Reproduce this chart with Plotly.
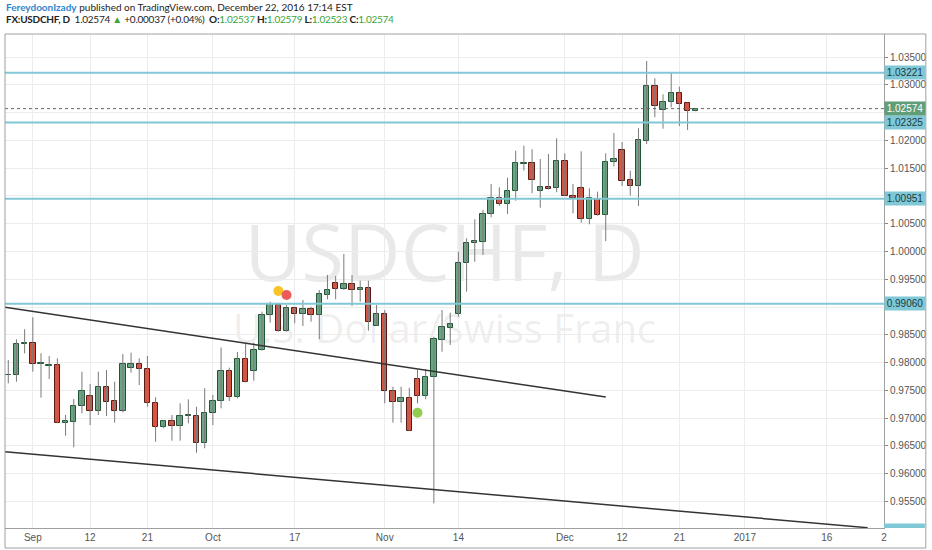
import numpy as np
import pandas as pd
import plotly.graph_objects as go

# ---------------- data ----------------
dates = pd.bdate_range("2016-08-29", "2016-12-23").strftime("%Y-%m-%d").tolist()

opens = [0.97770, 0.97775, 0.98328, 0.98357, 0.97968, 0.97937, 0.97955, 0.96910, 0.96934, 0.97217,
         0.97402, 0.97127, 0.97554, 0.97307, 0.97127, 0.97907, 0.97968, 0.97878, 0.97276, 0.96844,
         0.96941, 0.96862, 0.97042, 0.97042, 0.96550, 0.97085, 0.97307, 0.97853, 0.97370, 0.98058,
         0.97847, 0.98226, 0.98856, 0.99036, 0.98568, 0.98988, 0.98874, 0.98959, 0.98856, 0.99216,
         0.99438, 0.99319, 0.99409, 0.99306, 0.99337, 0.98663, 0.98874, 0.97487, 0.97294, 0.97366,
         0.97703, 0.97388, 0.97745, 0.98406, 0.98627, 0.98869, 0.99787, 1.00159, 1.00177, 1.00676,
         1.00969, 1.00856, 1.01090, 1.01582, 1.01589, 1.01095, 1.01167, 1.01139, 1.01630, 1.01005,
         1.01144, 1.00580, 1.00951, 1.00658, 1.01607, 1.01823, 1.01288, 1.01180, 1.01996, 1.02987,
         1.02549, 1.02688, 1.02861, 1.02681, 1.02537]
highs = [0.98045, 0.98418, 0.98599, 0.98815, 0.98166, 0.98118, 0.98076, 0.97055, 0.97343, 0.97835,
         0.97613, 0.97835, 0.97865, 0.97655, 0.98154, 0.98177, 0.98076, 0.98118, 0.97373, 0.96965,
         0.97055, 0.97265, 0.97337, 0.97204, 0.97536, 0.97415, 0.98271, 0.97907, 0.98190, 0.98357,
         0.98357, 0.98916, 0.99096, 0.99078, 0.99036, 0.99006, 0.99126, 0.99006, 0.99306, 0.99577,
         0.99559, 0.99955, 0.99577, 0.99474, 0.99474, 0.99036, 0.98946, 0.97564, 0.97564, 0.97546,
         0.97865, 0.97878, 0.98465, 0.98946, 0.98897, 0.99996, 1.00238, 1.00580, 1.00748, 1.01216,
         1.01157, 1.01330, 1.01816, 1.01906, 1.01841, 1.01666, 1.01756, 1.02039, 1.01769, 1.01216,
         1.01805, 1.01139, 1.01077, 1.01769, 1.02135, 1.01973, 1.01456, 1.02220, 1.03432, 1.03120,
         1.02832, 1.03221, 1.02969, 1.02681, 1.02579]
lows = [0.97626, 0.97655, 0.98166, 0.97835, 0.97366, 0.97703, 0.96905, 0.96682, 0.96473, 0.97085,
        0.96874, 0.97055, 0.97037, 0.96916, 0.97103, 0.97817, 0.97595, 0.97204, 0.96574, 0.96815,
        0.96592, 0.96592, 0.96905, 0.96375, 0.96455, 0.96874, 0.97175, 0.97307, 0.97355, 0.97640,
        0.97672, 0.98213, 0.98717, 0.98555, 0.98555, 0.98707, 0.98658, 0.98735, 0.98418, 0.99139,
        0.99139, 0.99306, 0.99018, 0.99096, 0.98573, 0.98663, 0.97265, 0.96916, 0.96916, 0.96766,
        0.97265, 0.97337, 0.95464, 0.98195, 0.98316, 0.98825, 0.99276, 0.99816, 0.99937, 1.00616,
        1.00820, 1.00676, 1.00915, 1.01456, 1.01049, 1.00789, 1.01117, 1.01067, 1.01000, 1.00688,
        1.00519, 1.00490, 1.00645, 1.00189, 1.01531, 1.01180, 1.01009, 1.00820, 1.01937, 1.02418,
        1.02212, 1.02598, 1.02261, 1.02189, 1.02523]
closes = [0.97775, 0.98334, 0.98357, 0.97968, 0.97986, 0.97955, 0.96916, 0.96941, 0.97217, 0.97487,
          0.97127, 0.97554, 0.97294, 0.97127, 0.97968, 0.97968, 0.97878, 0.97265, 0.96844, 0.96941,
          0.96862, 0.97042, 0.97049, 0.96545, 0.97085, 0.97307, 0.97853, 0.97370, 0.98058, 0.97655,
          0.98226, 0.98856, 0.99049, 0.98568, 0.98988, 0.98874, 0.98959, 0.98856, 0.99229, 0.99306,
          0.99319, 0.99409, 0.99306, 0.99337, 0.98725, 0.98874, 0.97487, 0.97294, 0.97366, 0.96766,
          0.97397, 0.97745, 0.98424, 0.98631, 0.98694, 0.99787, 1.00159, 1.00189, 1.00676, 1.00958,
          1.00856, 1.01095, 1.01589, 1.01589, 1.01288, 1.01167, 1.01126, 1.01630, 1.01005, 1.00969,
          1.00580, 1.00958, 1.00658, 1.01618, 1.01661, 1.01270, 1.01180, 1.02009, 1.02987, 1.02627,
          1.02699, 1.02861, 1.02657, 1.02537, 1.02574]

tick_dates = ["2016-09-01", "2016-09-12", "2016-09-21", "2016-10-03", "2016-10-17", "2016-11-01",
              "2016-11-14", "2016-12-01", "2016-12-12", "2016-12-21", "2017-01-02", "2017-01-16",
              "2017-01-25"]
tick_labels = ["Sep", "12", "21", "Oct", "17", "Nov", "14", "Dec", "12", "21", "2017", "16", "2"]

price_ticks = [0.950, 0.955, 0.960, 0.965, 0.970, 0.975, 0.980, 0.985, 0.990, 0.995,
               1.000, 1.005, 1.010, 1.015, 1.020, 1.025, 1.030, 1.035]

level_prices = [1.03221, 1.02325, 1.00951, 0.99060]
last_price = 1.02574

# trend lines: (date, price) anchors
upper_trend_dates = ["2016-08-26", "2016-12-08"]
upper_trend_prices = [0.98995, 0.97379]
lower_trend_dates = ["2016-08-26", "2017-01-23"]
lower_trend_prices = [0.96393, 0.95024]

event_dates = ["2016-10-13", "2016-10-14", "2016-11-07"]
event_prices = [0.99289, 0.99216, 0.97096]
event_colors = ["#f7c325", "#ec5b57", "#8fce4f"]

# ---------------- helpers ----------------
start = np.datetime64(dates[0])


def bar_index(d):
    d = np.datetime64(d)
    if d >= start:
        return float(np.busday_count(start, d))
    return -float(np.busday_count(d, start))


xi = [bar_index(d) for d in dates]
O, H, L, C = map(np.array, (opens, highs, lows, closes))
up = C >= O

GREEN, GREEN_EDGE = "#6ba583", "#225437"
RED, RED_EDGE = "#d75442", "#5b1a13"
WICK = "#7a7a7a"
CYAN = "#80c8d6"
AXFONT = "Liberation Sans, Arial"

fig = go.Figure()

# wicks
wx, wy = [], []
for x, lo, hi in zip(xi, lows, highs):
    wx += [x, x, None]
    wy += [lo, hi, None]
fig.add_trace(go.Scatter(x=wx, y=wy, mode="lines", line=dict(color=WICK, width=1),
                         hoverinfo="skip"))

# bodies
base = np.minimum(O, C)
height = np.maximum(np.abs(C - O), 0.00004)
fig.add_trace(go.Bar(x=xi, y=height, base=base, width=0.66,
                     marker=dict(color=[GREEN if u else RED for u in up],
                                 line=dict(color=[GREEN_EDGE if u else RED_EDGE for u in up], width=1)),
                     hoverinfo="skip"))

# event dots
fig.add_trace(go.Scatter(x=[bar_index(d) for d in event_dates], y=event_prices, mode="markers",
                         marker=dict(size=10, color=event_colors), hoverinfo="skip"))

shapes = []
# watermark (behind series)
shapes.append(dict(type="rect", xref="paper", yref="paper", x0=0.1, x1=0.9, y0=0.495, y1=0.605,
                   line=dict(width=0), fillcolor="rgba(0,0,0,0)", layer="below",
                   label=dict(text="USDCHF, D", font=dict(size=78, color="rgba(0,0,0,0.085)",
                                                           family="Open Sans"),
                              textposition="middle center")))
shapes.append(dict(type="rect", xref="paper", yref="paper", x0=0.05, x1=0.95, y0=0.355, y1=0.445,
                   line=dict(width=0), fillcolor="rgba(0,0,0,0)", layer="below",
                   label=dict(text="U.S. Dollar/Swiss Franc",
                              font=dict(size=40, color="rgba(0,0,0,0.085)", family="Open Sans"),
                              textposition="middle center")))

# horizontal levels
for p in level_prices:
    shapes.append(dict(type="line", xref="paper", x0=0, x1=1, yref="y", y0=p, y1=p,
                       line=dict(color=CYAN, width=2), layer="above"))
shapes.append(dict(type="line", xref="paper", x0=0, x1=1, yref="y", y0=last_price, y1=last_price,
                   line=dict(color="#666", width=1, dash="dot"), layer="above"))

# trend lines
for ds, ps in ((upper_trend_dates, upper_trend_prices), (lower_trend_dates, lower_trend_prices)):
    shapes.append(dict(type="line", xref="x", yref="y",
                       x0=bar_index(ds[0]) + 0.6, y0=ps[0], x1=bar_index(ds[1]), y1=ps[1],
                       line=dict(color="#333", width=1.5), layer="above"))

# outer frame and bottom-right clipped label
shapes.append(dict(type="rect", xref="paper", yref="paper", x0=0, x1=1.0476, y0=-0.0405, y1=1.0,
                   line=dict(color="#a0a0a0", width=1), fillcolor="rgba(0,0,0,0)", layer="above"))
shapes.append(dict(type="rect", xref="paper", yref="paper", x0=1.0, x1=1.0465, y0=0.0, y1=0.009,
                   line=dict(width=0), fillcolor=CYAN, layer="above"))

# price-axis labels: the ones hidden under the level boxes are left blank
label_prices = level_prices + [last_price]
tick_text = ["" if min(abs(t - p) for p in label_prices) < 0.0012 else f"{t:.5f}" for t in price_ticks]

annotations = []
for p in level_prices:
    annotations.append(dict(xref="paper", x=1.0, xanchor="left", yref="y", y=p, yanchor="middle",
                            text=f"{p:.5f}", showarrow=False, bgcolor=CYAN, width=40, height=13,
                            font=dict(size=10, color="#1b3b44", family=AXFONT),
                            borderpad=0))
annotations.append(dict(xref="paper", x=1.0, xanchor="left", yref="y", y=last_price, yanchor="middle",
                        text=f"{last_price:.5f}", showarrow=False, bgcolor="#5f9e78", width=40, height=13,
                        font=dict(size=10, color="white", family=AXFONT), borderpad=0))

G = "#3aa53a"
line1 = ("<b><span style='color:#2f86cf'>FereydoonIzady</span></b> published on TradingView.com, "
         "December 22, 2016 17:14 EST")
line2 = ("<span style='letter-spacing:-0.25px'>"
         "<b>FX:USDCHF, D</b>  1.02574 <span style='color:" + G + "'>▲</span> +0.00037 (+0.04%)  "
         "<b>O:</b><span style='color:" + G + "'>1.02537</span> "
         "<b>H:</b><span style='color:" + G + "'>1.02579</span> "
         "<b>L:</b><span style='color:" + G + "'>1.02523</span> "
         "<b>C:</b><span style='color:" + G + "'>1.02574</span></span>")
HFONT = "Lato"
annotations.append(dict(xref="paper", yref="paper", x=0, y=1.0546, xanchor="left", yanchor="middle",
                        text=line1, showarrow=False, xshift=-1,
                        font=dict(size=10, color="#222", family=HFONT)))
annotations.append(dict(xref="paper", yref="paper", x=0, y=1.0303, xanchor="left", yanchor="middle",
                        text=line2, showarrow=False, xshift=-1,
                        font=dict(size=10, color="#222", family=HFONT)))

fig.update_layout(
    width=932, height=550,
    margin=dict(l=5, r=44, t=34, b=22),
    paper_bgcolor="white", plot_bgcolor="white",
    showlegend=False, bargap=0,
    shapes=shapes, annotations=annotations,
    xaxis=dict(range=[-0.40, 107.0], tickvals=[bar_index(d) for d in tick_dates], ticktext=tick_labels,
               showgrid=True, gridcolor="#ececec", zeroline=False, showline=True, linecolor="#a0a0a0",
               ticks="", tickfont=dict(size=10, color="#555", family=AXFONT), fixedrange=True),
    yaxis=dict(side="right", range=[0.95019, 1.03918], tickvals=price_ticks, ticktext=tick_text,
               showgrid=True, gridcolor="#ececec", zeroline=False, showline=True, linecolor="#a0a0a0",
               ticks="outside", ticklen=3, tickcolor="#888",
               tickfont=dict(size=10, color="#555", family=AXFONT)),
)

fig.write_html("out.html", config={"displayModeBar": False},
               post_script="document.body.style.margin='0';document.body.style.overflow='hidden';"
                           "window.dispatchEvent(new Event('resize'));")
